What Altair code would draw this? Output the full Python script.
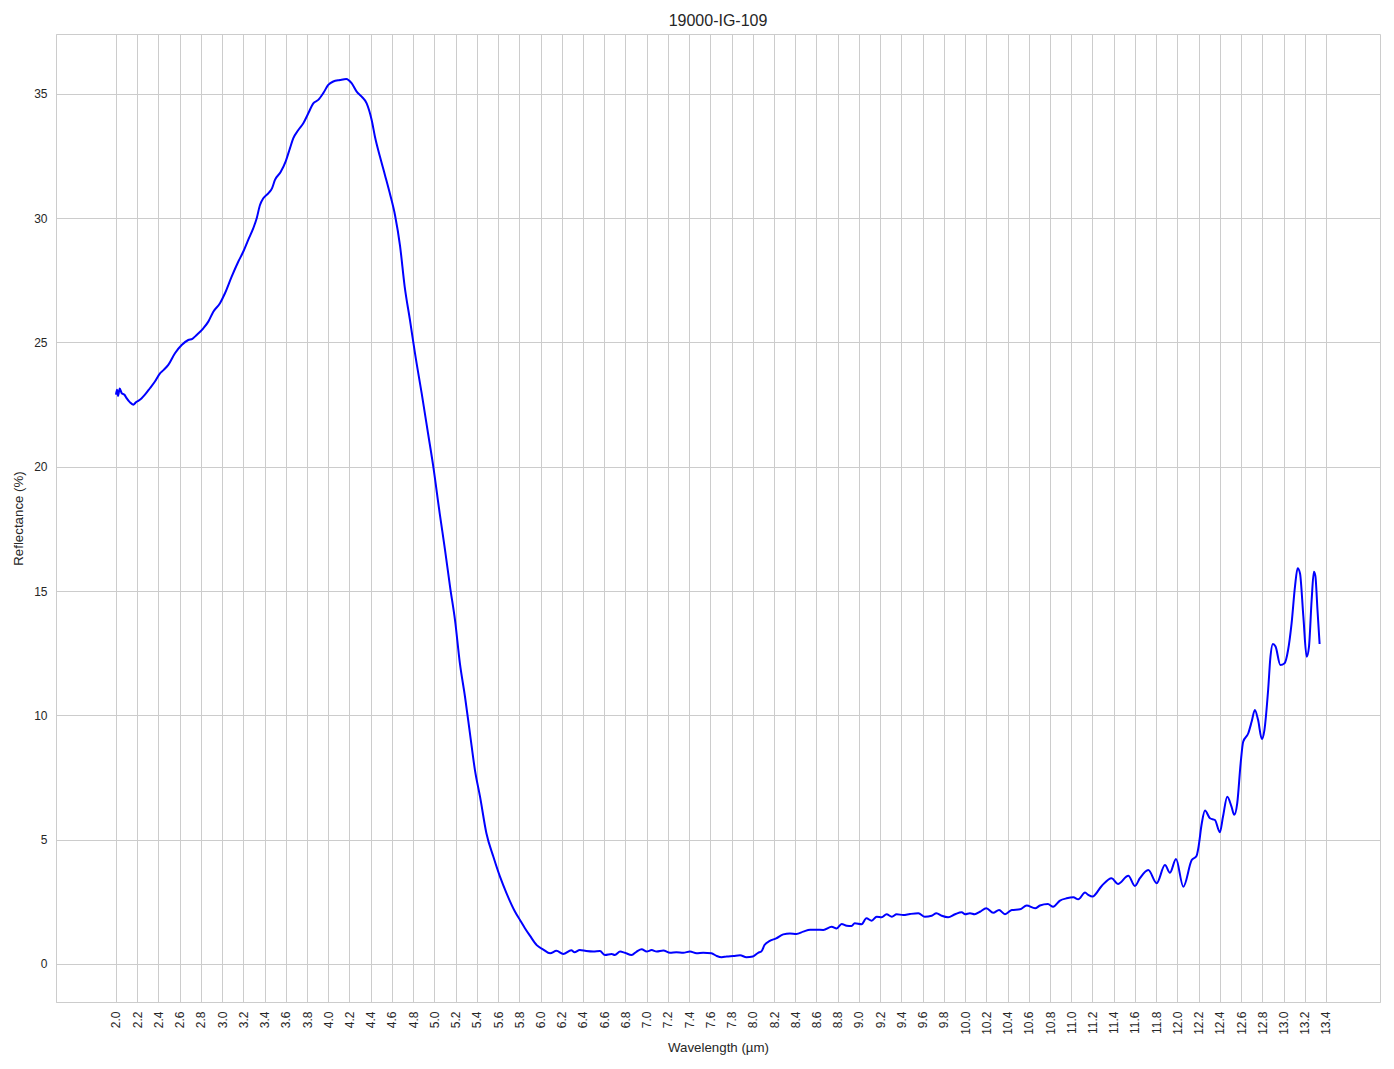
import altair as alt
import pandas as pd

title_text = "19000-IG-109"
x_title = "Wavelength (µm)"
y_title = "Reflectance (%)"

wavelength = [
    2.00, 2.01, 2.02, 2.035, 2.054, 2.08, 2.10, 2.13, 2.163, 2.19, 2.21, 2.24, 2.273, 2.32, 2.367,
    2.415, 2.45, 2.493, 2.556, 2.619, 2.681, 2.72, 2.76, 2.823, 2.87, 2.917, 2.98, 3.027, 3.09,
    3.152, 3.2, 3.246, 3.294, 3.326, 3.357, 3.388, 3.435, 3.47, 3.498, 3.55, 3.60, 3.639, 3.67,
    3.718, 3.765, 3.812, 3.859, 3.906, 3.953, 4.0, 4.047, 4.11, 4.17, 4.22, 4.268, 4.315, 4.362,
    4.409, 4.44, 4.487, 4.534, 4.58, 4.63, 4.676, 4.72, 4.77, 4.817, 4.88, 4.94, 4.99, 5.05, 5.10,
    5.15, 5.194, 5.24, 5.288, 5.335, 5.382, 5.43, 5.49, 5.555, 5.618, 5.68, 5.76, 5.806, 5.853,
    5.9, 5.964, 6.026, 6.09, 6.15, 6.214, 6.29, 6.32, 6.37, 6.43, 6.497, 6.56, 6.607, 6.67, 6.70,
    6.75, 6.795, 6.858, 6.906, 6.953, 7.0, 7.047, 7.094, 7.157, 7.22, 7.28, 7.345, 7.408, 7.47,
    7.533, 7.61, 7.66, 7.707, 7.754, 7.816, 7.88, 7.94, 8.0, 8.05, 8.08, 8.11, 8.16, 8.22, 8.287,
    8.35, 8.41, 8.475, 8.54, 8.6, 8.664, 8.743, 8.79, 8.837, 8.885, 8.93, 8.96, 9.025, 9.07, 9.12,
    9.167, 9.214, 9.26, 9.31, 9.355, 9.417, 9.48, 9.56, 9.62, 9.685, 9.73, 9.78, 9.84, 9.905,
    9.968, 10.0, 10.046, 10.09, 10.14, 10.2, 10.265, 10.32, 10.376, 10.44, 10.517, 10.58, 10.66,
    10.705, 10.78, 10.83, 10.894, 10.957, 11.02, 11.066, 11.13, 11.16, 11.2, 11.287, 11.38, 11.44,
    11.538, 11.6, 11.647, 11.726, 11.805, 11.883, 11.93, 11.987, 12.056, 12.135, 12.18, 12.197,
    12.23, 12.26, 12.307, 12.354, 12.4, 12.43, 12.47, 12.51, 12.536, 12.564, 12.596, 12.62, 12.668,
    12.7, 12.73, 12.76, 12.796, 12.82, 12.855, 12.877, 12.9, 12.925, 12.97, 13.01, 13.043, 13.076,
    13.108, 13.133, 13.155, 13.187, 13.218, 13.24, 13.265, 13.286, 13.3, 13.32, 13.34,
]

reflectance = [
    22.9, 23.1, 22.85, 23.15, 22.96, 22.9, 22.76, 22.6, 22.5, 22.6, 22.65, 22.75, 22.9, 23.16, 23.43,
    23.76, 23.9, 24.1, 24.57, 24.9, 25.1, 25.15, 25.3, 25.57, 25.84, 26.24, 26.58, 26.98, 27.65,
    28.25, 28.66, 29.13, 29.6, 30.0, 30.53, 30.8, 31.0, 31.2, 31.54, 31.85, 32.3, 32.81, 33.21,
    33.55, 33.82, 34.22, 34.62, 34.76, 35.03, 35.36, 35.5, 35.56, 35.6, 35.43, 35.09, 34.89, 34.62,
    33.95, 33.28, 32.48, 31.74, 31.0, 30.1, 28.9, 27.25, 25.9, 24.57, 22.96, 21.35, 20.0, 18.13, 16.66,
    15.1, 13.84, 12.1, 10.76, 9.28, 7.8, 6.73, 5.26, 4.32, 3.51, 2.84, 2.1, 1.77, 1.44,
    1.14, 0.76, 0.58, 0.43, 0.53, 0.4, 0.55, 0.47, 0.56, 0.52, 0.5, 0.52, 0.36, 0.4, 0.36,
    0.5, 0.45, 0.36, 0.5, 0.59, 0.5, 0.56, 0.5, 0.54, 0.45, 0.47, 0.45, 0.5, 0.43,
    0.45, 0.43, 0.32, 0.27, 0.3, 0.32, 0.35, 0.27, 0.3, 0.45, 0.5, 0.76, 0.93, 1.03, 1.19,
    1.23, 1.21, 1.3, 1.38, 1.38, 1.37, 1.5, 1.43, 1.61, 1.54, 1.53, 1.64, 1.6, 1.84, 1.74,
    1.9, 1.88, 2.0, 1.9, 2.0, 1.97, 2.01, 2.04, 1.9, 1.94, 2.04, 1.94, 1.88, 2.0,
    2.08, 2.0, 2.04, 2.0, 2.1, 2.24, 2.06, 2.17, 2.0, 2.17, 2.2, 2.35, 2.24,
    2.35, 2.41, 2.3, 2.55, 2.64, 2.68, 2.6, 2.87, 2.78, 2.71, 3.14, 3.45, 3.22,
    3.55, 3.14, 3.45, 3.78, 3.25, 3.98, 3.67, 4.22, 3.11, 4.18, 4.34, 4.65,
    5.66, 6.17, 5.86, 5.79, 5.3, 5.93, 6.73, 6.33, 6.0, 6.47, 8.07, 8.94, 9.28,
    9.75, 10.22, 9.82, 9.05, 9.41, 11.02, 12.36, 12.87, 12.77, 12.03, 12.1, 12.63, 13.7,
    15.18, 15.92, 15.72, 13.97, 12.36, 12.77, 14.64, 15.78, 15.61, 14.24, 12.87,
]

x_ticks = [round(2.0 + 0.2 * i, 1) for i in range(58)]
y_ticks = [0, 5, 10, 15, 20, 25, 30, 35]

df = pd.DataFrame({"wl": wavelength, "r": reflectance})

font = "Liberation Sans"
text_color = "#262626"

chart = (
    alt.Chart(df)
    .mark_line(color="#0000ff", strokeWidth=2, interpolate="monotone")
    .encode(
        x=alt.X(
            "wl:Q",
            title=x_title,
            scale=alt.Scale(domain=[1.435, 13.909], nice=False, zero=False),
            axis=alt.Axis(values=x_ticks, format=".1f", labelAngle=270, labelAlign="right",
                          labelBaseline="middle", labelPadding=9, titlePadding=6,
                          labelOverlap=False, labelFlush=False),
        ),
        y=alt.Y(
            "r:Q",
            title=y_title,
            scale=alt.Scale(domain=[-1.53, 37.41], nice=False, zero=False),
            axis=alt.Axis(values=y_ticks, labelPadding=9, titlePadding=8),
        ),
    )
    .properties(
        width=1324,
        height=968,
        title=alt.TitleParams(title_text, font=font, fontSize=16, fontWeight="normal",
                              color=text_color, offset=5),
        autosize=alt.AutoSizeParams(type="none"),
        padding={"left": 48, "top": 26, "right": 6, "bottom": 59},
    )
    .configure_axis(
        grid=True,
        gridColor="#cccccc",
        gridWidth=1,
        domainColor="#cccccc",
        ticks=False,
        labelFont=font,
        labelFontSize=12,
        labelColor=text_color,
        titleFont=font,
        titleFontSize=13.3,
        titleFontWeight="normal",
        titleColor=text_color,
    )
    .configure_view(stroke="#cccccc", strokeWidth=1)
)

chart.save("out.html", embed_options={"renderer": "svg", "actions": False})
